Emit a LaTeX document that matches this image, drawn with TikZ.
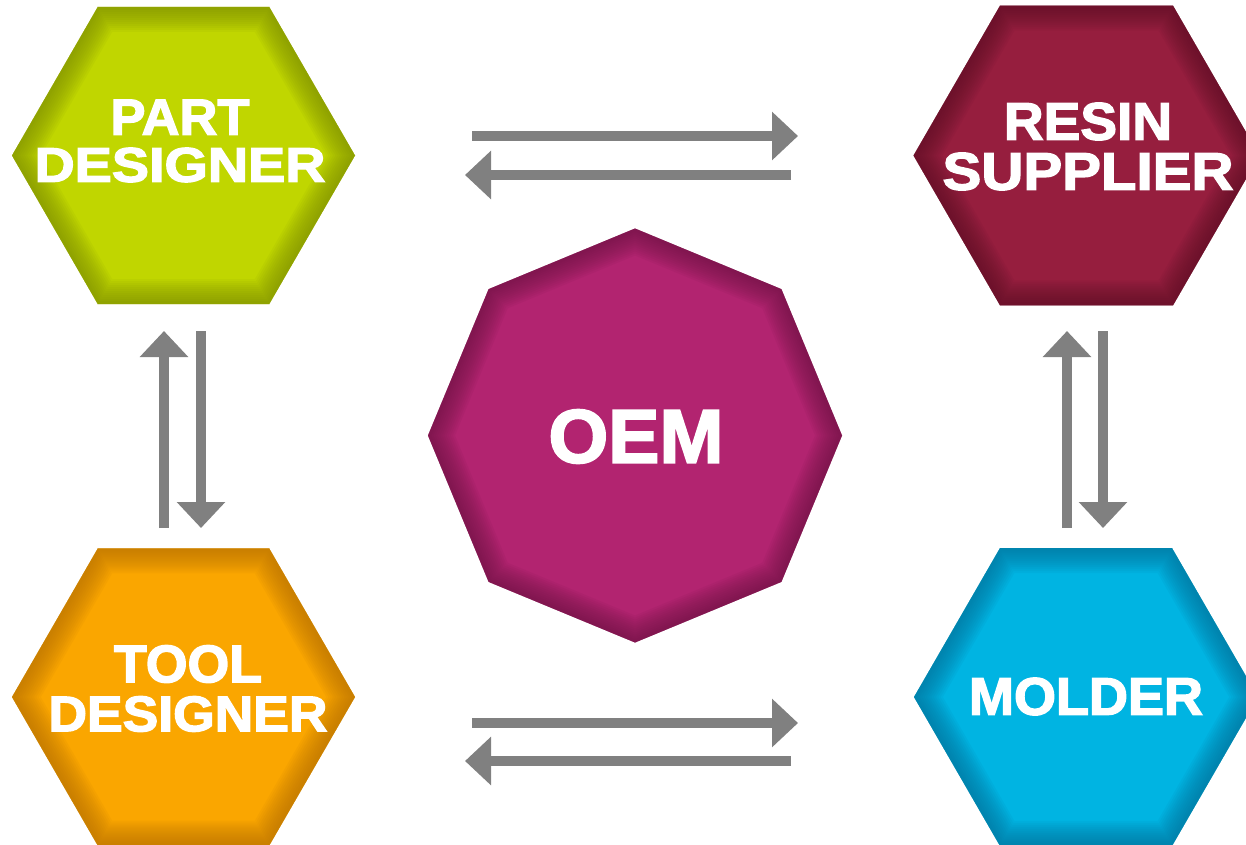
\documentclass[tikz,border=0pt]{standalone}
\usepackage{fontspec}
\usepackage{graphicx}
\usetikzlibrary{shapes.geometric,arrows.meta}
\newfontfamily\hexfont{Liberation Sans}[UprightFont=*-Bold, FakeBold=2.5]
\definecolor{pdin}{RGB}{192,214,0}
\definecolor{pdout}{RGB}{120,135,0}
\definecolor{rsin}{RGB}{150,30,62}
\definecolor{rsout}{RGB}{90,16,36}
\definecolor{oemin}{RGB}{178,36,112}
\definecolor{oemout}{RGB}{105,20,66}
\definecolor{tdin}{RGB}{250,166,0}
\definecolor{tdout}{RGB}{180,110,0}
\definecolor{mlin}{RGB}{0,180,226}
\definecolor{mlout}{RGB}{0,110,150}
\definecolor{arrowgray}{RGB}{128,128,128}
\newcommand\innerglow[3]{%
  \begin{scope}
    \clip (#1.corner 1) \foreach \i in {2,...,#2}{ -- (#1.corner \i)} -- cycle;
    \foreach \w in {50,46,...,6}{%
      \draw[draw=#3, opacity=0.075, line width=\w pt, line join=miter, yshift=-6pt]
        (#1.corner 1) \foreach \i in {2,...,#2}{ -- (#1.corner \i)} -- cycle;}
  \end{scope}}
\tikzset{
  hexa/.style={regular polygon, regular polygon sides=6, minimum size=#1, inner sep=0pt, outer sep=0pt, draw=none},
  octa/.style={regular polygon, regular polygon sides=8, shape border rotate=22.5, minimum size=#1, inner sep=0pt, outer sep=0pt, draw=none},
  lbl/.style={text=white, align=center, inner sep=0pt, font=\hexfont\fontsize{40}{#1}\selectfont},
  flow/.style={draw=arrowgray, line width=10pt, -{Triangle[length=26pt,width=47pt]}}
}
\begin{document}
\begin{tikzpicture}[x=1pt,y=-1pt]
\useasboundingbox (0,0) rectangle (1246,844);
\fill[white] (0,0) rectangle (1246,844);
\clip (0,0) rectangle (1246,844);
% shapes
\node[hexa=343pt, fill=pdin] (pd) at (183.5,155.5) {};
\node[hexa=346pt, fill=rsin] (rs) at (1086.5,155.5) {};
\node[hexa=343pt, fill=tdin] (td) at (183.5,697) {};
\node[hexa=344pt, fill=mlin] (ml) at (1086,697) {};
\node[octa=414pt, fill=oemin] (oem) at (635,435.5) {};
\innerglow{pd}{6}{pdout}
\innerglow{rs}{6}{rsout}
\innerglow{td}{6}{tdout}
\innerglow{ml}{6}{mlout}
\innerglow{oem}{8}{oemout}
% labels
\node[lbl=47pt] (pdt) at (180,141) {\resizebox{139pt}{35pt}{PART}\\\resizebox{291pt}{34pt}{DESIGNER}};
\node[lbl=50pt] (rst) at (1088,146.5) {\resizebox{168pt}{37pt}{RESIN}\\\resizebox{291pt}{37pt}{SUPPLIER}};
\node[lbl=49pt] (tdt) at (188,688.5) {\resizebox{148pt}{37pt}{TOOL}\\\resizebox{279pt}{35pt}{DESIGNER}};
\node[lbl=40pt] (mlt) at (1086,696.5) {\resizebox{234pt}{37pt}{MOLDER}};
\node[lbl=40pt] (oemt) at (636,436.5) {\resizebox{175pt}{53pt}{OEM}};
% arrow end points
\coordinate (t1s) at (472,136); \coordinate (t1e) at (798,136);
\coordinate (t2s) at (791,175); \coordinate (t2e) at (465,175);
\coordinate (b1s) at (472,723); \coordinate (b1e) at (798,723);
\coordinate (b2s) at (791,761); \coordinate (b2e) at (465,761);
\coordinate (l1s) at (164,528); \coordinate (l1e) at (164,331);
\coordinate (l2s) at (201,331); \coordinate (l2e) at (201,528);
\coordinate (r1s) at (1067,528); \coordinate (r1e) at (1067,331);
\coordinate (r2s) at (1103,331); \coordinate (r2e) at (1103,528);
% arrows
\draw[flow] (t1s) -- (t1e);
\draw[flow] (t2s) -- (t2e);
\draw[flow] (b1s) -- (b1e);
\draw[flow] (b2s) -- (b2e);
\draw[flow] (l1s) -- (l1e);
\draw[flow] (l2s) -- (l2e);
\draw[flow] (r1s) -- (r1e);
\draw[flow] (r2s) -- (r2e);
\end{tikzpicture}
\end{document}
